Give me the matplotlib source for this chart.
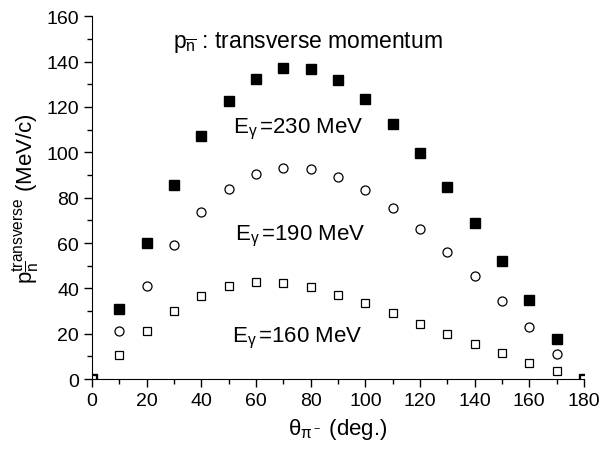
import numpy as np
import matplotlib
matplotlib.use("Agg")
import matplotlib.pyplot as plt
from matplotlib.ticker import MultipleLocator

plt.rcParams['font.family'] = ['Liberation Sans', 'DejaVu Sans']
plt.rcParams['mathtext.fontset'] = 'custom'
plt.rcParams['mathtext.rm'] = 'Liberation Sans'
plt.rcParams['mathtext.it'] = 'Liberation Sans:italic'
plt.rcParams['mathtext.bf'] = 'Liberation Sans:bold'
plt.rcParams['mathtext.default'] = 'regular'

theta = [0, 10, 20, 30, 40, 50, 60, 70, 80, 90, 100, 110, 120, 130, 140, 150, 160, 170, 180]
p_230 = [0, 30.8, 60.0, 85.5, 107.0, 122.5, 132.5, 137.0, 136.6, 132.0, 123.5, 112.5, 99.5, 84.8, 68.8, 52.2, 35.0, 17.5, 0]
p_190 = [0, 21.0, 41.0, 59.0, 73.5, 84.0, 90.5, 93.2, 92.7, 89.0, 83.2, 75.4, 66.1, 56.0, 45.4, 34.3, 22.8, 11.2, 0]
p_160 = [0, 10.8, 21.2, 30.0, 36.8, 40.9, 42.8, 42.5, 40.5, 37.3, 33.5, 29.0, 24.2, 19.8, 15.5, 11.5, 7.3, 3.4, 0]

fig = plt.figure(figsize=(6.02, 4.52), dpi=100)
ax = fig.add_axes([0.153, 0.159, 0.817, 0.803])

ax.plot(theta, p_230, ls='none', marker='s', ms=6.5, mfc='black', mec='black')
ax.plot(theta, p_190, ls='none', marker='o', ms=6.5, mfc='white', mec='black', mew=0.9)
ax.plot(theta, p_160, ls='none', marker='s', ms=6, mfc='white', mec='black', mew=0.9)

ax.set_xlim(0, 180)
ax.set_ylim(0, 160)
ax.xaxis.set_major_locator(MultipleLocator(20))
ax.xaxis.set_minor_locator(MultipleLocator(10))
ax.yaxis.set_major_locator(MultipleLocator(20))
ax.yaxis.set_minor_locator(MultipleLocator(10))
ax.spines['top'].set_visible(False)
ax.spines['right'].set_visible(False)
ax.tick_params(which='major', direction='out', length=6, width=1, labelsize=14)
ax.tick_params(which='minor', direction='out', length=3.5, width=1)

ax.set_xlabel(r'$\theta_{\pi^-}$ (deg.)', fontsize=16, labelpad=5)
ax.set_ylabel(r'p$_{\overline{n}}^{transverse}$ (MeV/c)', fontsize=16, labelpad=4)

ax.text(0.165, 0.93, r'p$_{\overline{n}}$ : transverse momentum', transform=ax.transAxes,
        fontsize=16.5, ha='left', va='center')
ax.text(51.6, 108.9, r'E$_{\gamma}\,$=230 MeV', fontsize=16, ha='left', va='baseline')
ax.text(52.3, 61.7, r'E$_{\gamma}\,$=190 MeV', fontsize=16, ha='left', va='baseline')
ax.text(51.2, 16.7, r'E$_{\gamma}\,$=160 MeV', fontsize=16, ha='left', va='baseline')

fig.savefig("out.png", dpi=100)
